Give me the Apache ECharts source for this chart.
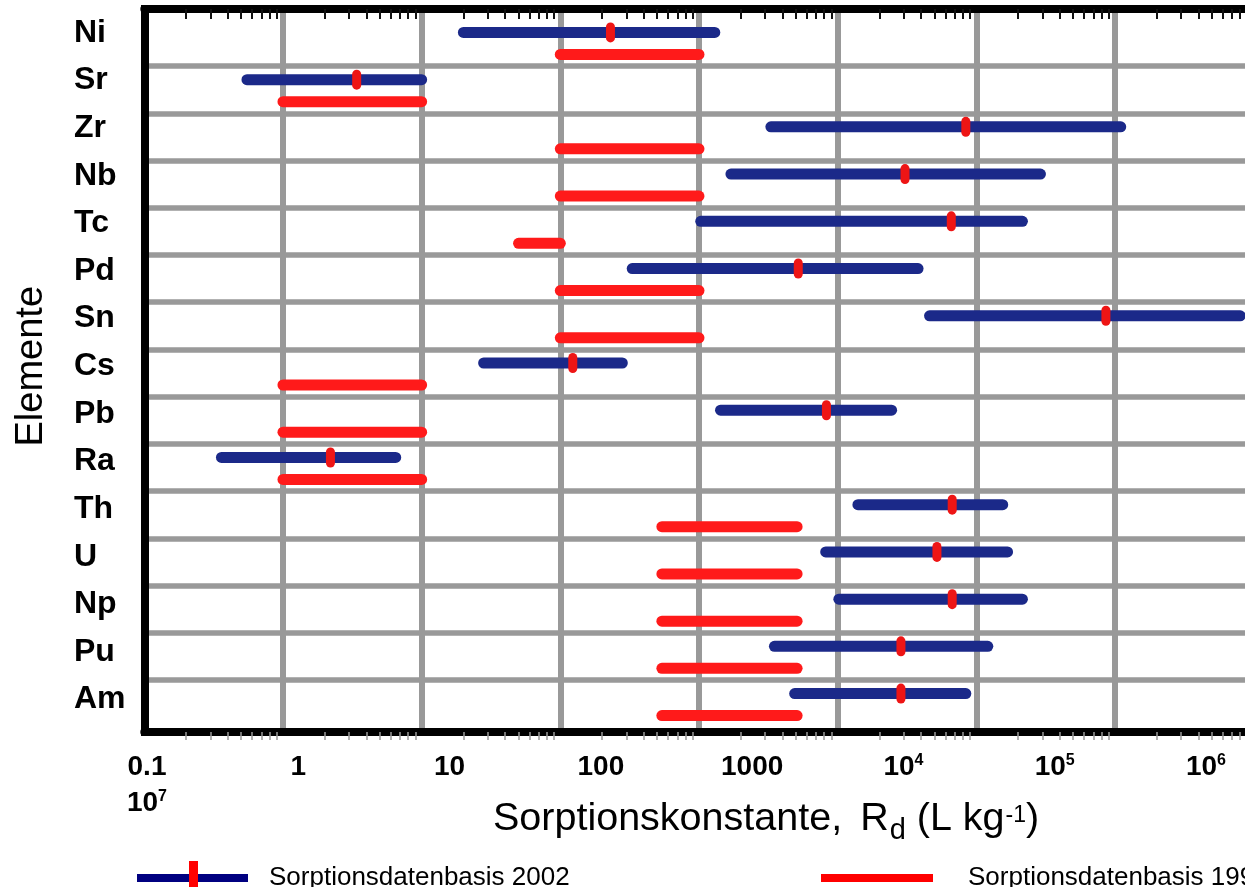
<!DOCTYPE html>
<html>
<head>
<meta charset="utf-8">
<script src="https://cdn.jsdelivr.net/npm/echarts@6/dist/echarts.min.js"></script>
<style>html,body{margin:0;padding:0;background:#fff}#c{width:1245px;height:887px}</style>
</head>
<body>
<div id="c"></div>
<script>
// ---- data ----
const elements   = ['Ni','Sr','Zr','Nb','Tc','Pd','Sn','Cs','Pb','Ra','Th','U','Np','Pu','Am'];
const rd2002Low  = [20, 0.55, 3300, 1700, 1030, 330, 46000, 28, 1430, 0.36, 14000, 8200, 10200, 3500, 4900];
const rd2002High = [1300, 10, 1100000, 290000, 215000, 38000, 8000000, 280, 24500, 6.5, 155000, 168000, 215000, 121000, 84000];
const rd2002Best = [230, 3.4, 84000, 30600, 66000, 5200, 860000, 123, 8300, 2.2, 67000, 52000, 67000, 28600, 28600];
const rd1994Low  = [100, 1, 100, 100, 50, 100, 100, 1, 1, 1, 540, 540, 540, 540, 540];
const rd1994High = [1000, 10, 1000, 1000, 100, 1000, 1000, 10, 10, 10, 5100, 5100, 5100, 5100, 5100];
const tickValues = [0.1, 1, 10, 100, 1000, 1e4, 1e5, 1e6];
const tickLabels = ['{n|0.1}\n{n|10}{s|7}', '{n|1}', '{n|10}', '{n|100}', '{n|1000}', '{n|10}{s|4}', '{n|10}{s|5}', '{n|10}{s|6}'];
const seriesNames = ['Sorptionsdatenbasis 2002', 'Sorptionsdatenbasis 1994'];

// ---- styles ----
const FONT = "'Liberation Sans', Arial, Helvetica, sans-serif";
const BLUE = '#1b2989', RED = '#ff1a1a', MARK = '#ee1515', GRID = '#999999';

// minor log ticks along the frame (2..9 in each decade)
const minorTicks = [];
for (let e = -1; e <= 6; e++) for (let m = 2; m <= 9; m++) minorTicks.push(+(m * Math.pow(10, e)).toPrecision(3));

const chart = echarts.init(document.getElementById('c'), null, {renderer: 'canvas'});

function render2002(params, api) {
  const y = api.value(3);
  const a = api.coord([api.value(0), y]);
  const b = api.coord([api.value(1), y]);
  const m = api.coord([api.value(2), y]);
  const off = -10;
  return {type: 'group', children: [
    {type: 'line', shape: {x1: a[0], y1: a[1] + off, x2: b[0], y2: b[1] + off},
     style: {stroke: BLUE, lineWidth: 11, lineCap: 'round'}},
    {type: 'rect', shape: {x: m[0] - 4.5, y: m[1] + off - 10, width: 9, height: 20, r: 4.5},
     style: {fill: MARK}}
  ]};
}
function render1994(params, api) {
  const y = api.value(2);
  const a = api.coord([api.value(0), y]);
  const b = api.coord([api.value(1), y]);
  const off = 12;
  return {type: 'line', shape: {x1: a[0], y1: a[1] + off, x2: b[0], y2: b[1] + off},
          style: {stroke: RED, lineWidth: 11, lineCap: 'round'}};
}

const noAxis = {axisLine: {show: false}, axisTick: {show: false}, axisLabel: {show: false}, splitLine: {show: false}};

const option = {
  animation: false,
  backgroundColor: '#fff',
  textStyle: {fontFamily: FONT},
  grid: [
    {left: 144.3, right: -8.66, top: 9, bottom: 155, outerBoundsMode: 'none', containLabel: false},        // frame + vertical lines
    {left: 144.3, right: -8.66, top: 18.8, bottom: 159.8, outerBoundsMode: 'none', containLabel: false},   // data rows
    {left: 147, right: 39, top: 9.2, bottom: 163.7, outerBoundsMode: 'none', containLabel: false}          // tick / category labels
  ],
  xAxis: [
    Object.assign({}, noAxis, {gridIndex: 0, type: 'log', min: 0.1, max: 1e7, position: 'bottom', z: 1,
      splitLine: {show: true, showMinLine: false, lineStyle: {color: GRID, width: 6}}}),
    Object.assign({}, noAxis, {gridIndex: 0, type: 'log', min: 0.1, max: 1e7, position: 'top', z: 5,
      axisLine: {show: true, onZero: false, lineStyle: {color: '#000', width: 8}},
      axisTick: {show: true, inside: true, length: 10, customValues: minorTicks, lineStyle: {color: '#111', width: 2}}}),
    Object.assign({}, noAxis, {gridIndex: 0, type: 'log', min: 0.1, max: 1e7, position: 'bottom', z: 5,
      axisLine: {show: true, onZero: false, lineStyle: {color: '#000', width: 8}},
      axisTick: {show: true, inside: false, length: 8, customValues: minorTicks, lineStyle: {color: '#999', width: 1.5}}}),
    Object.assign({}, noAxis, {gridIndex: 1, type: 'log', min: 0.1, max: 1e7, show: false}),
    Object.assign({}, noAxis, {gridIndex: 2, type: 'log', min: 0.1, max: 1e6, position: 'bottom',
      axisLabel: {show: true, customValues: tickValues, margin: 25.7, color: '#000',
        formatter: function (v) {
          const i = tickValues.findIndex(t => Math.abs(Math.log10(t) - Math.log10(v)) < 1e-6);
          return i >= 0 ? tickLabels[i] : '';
        },
        rich: {
          n: {fontSize: 28, fontWeight: 'bold', lineHeight: 36, fontFamily: FONT, color: '#000'},
          s: {fontSize: 16, fontWeight: 'bold', lineHeight: 20, verticalAlign: 'top', padding: [4, 0, 0, 0], fontFamily: FONT, color: '#000'}
        }}})
  ],
  yAxis: [
    Object.assign({}, noAxis, {gridIndex: 0, type: 'value', min: 0, max: 1, position: 'left', z: 5,
      axisLine: {show: true, onZero: false, lineStyle: {color: '#000', width: 8, cap: 'square'}}}),
    Object.assign({}, noAxis, {gridIndex: 1, type: 'category', inverse: true, data: elements, boundaryGap: true,
      splitLine: {show: true, interval: 0, showMinLine: false, showMaxLine: false, lineStyle: {color: GRID, width: 5.5}}}),
    Object.assign({}, noAxis, {gridIndex: 2, type: 'category', inverse: true, data: elements, boundaryGap: true,
      axisLabel: {show: true, interval: 0, align: 'left', margin: 73, fontSize: 32, fontWeight: 'bold', color: '#000', fontFamily: FONT},
      name: 'Elemente', nameLocation: 'middle', nameRotate: 90, nameGap: 96,
      nameTextStyle: {fontSize: 38, color: '#000', fontFamily: FONT}})
  ],
  title: {
    text: '{a|Sorptionskonstante,}{r|R}{d|d}{a| (L kg}{s|-1}{a|)}',
    left: 493, top: 797, padding: 0,
    textStyle: {rich: {
      a: {fontSize: 39.5, lineHeight: 44, color: '#000', fontFamily: FONT, fontWeight: 'normal'},
      r: {fontSize: 39.5, lineHeight: 44, padding: [0, 0, 0, 18], color: '#000', fontFamily: FONT, fontWeight: 'normal'},
      d: {fontSize: 29, lineHeight: 30, padding: [24, 0, 0, 1], color: '#000', fontFamily: FONT, fontWeight: 'normal'},
      s: {fontSize: 23, lineHeight: 23, verticalAlign: 'top', padding: [7, 0, 0, 1], color: '#000', fontFamily: FONT, fontWeight: 'normal'}
    }}
  },
  legend: [
    {data: [{name: seriesNames[0], icon: 'rect', itemStyle: {color: '#000080'}}], left: 137, top: 860, padding: 0,
     itemWidth: 111, itemHeight: 8, selectedMode: false,
     textStyle: {fontSize: 26, color: '#000', fontFamily: FONT, lineHeight: 30, padding: [0, 0, 6, 16]}},
    {data: [{name: seriesNames[1], icon: 'rect', itemStyle: {color: '#ff0000'}}], left: 821, top: 860, padding: 0,
     itemWidth: 112, itemHeight: 8, selectedMode: false,
     textStyle: {fontSize: 26, color: '#000', fontFamily: FONT, lineHeight: 30, padding: [0, 0, 6, 30]}}
  ],
  graphic: [
    {type: 'rect', left: 189, top: 861, z: 100, shape: {width: 9, height: 26}, style: {fill: '#ff0000'}}
  ],
  series: [
    {type: 'custom', name: seriesNames[0], xAxisIndex: 3, yAxisIndex: 1, renderItem: render2002,
     itemStyle: {color: BLUE}, encode: {x: [0, 1, 2], y: 3}, clip: false, z: 3,
     data: elements.map((e, i) => [rd2002Low[i], rd2002High[i], rd2002Best[i], i])},
    {type: 'custom', name: seriesNames[1], xAxisIndex: 3, yAxisIndex: 1, renderItem: render1994,
     itemStyle: {color: RED}, encode: {x: [0, 1], y: 2}, clip: false, z: 3,
     data: elements.map((e, i) => [rd1994Low[i], rd1994High[i], i])}
  ]
};
chart.setOption(option);
</script>
</body>
</html>
